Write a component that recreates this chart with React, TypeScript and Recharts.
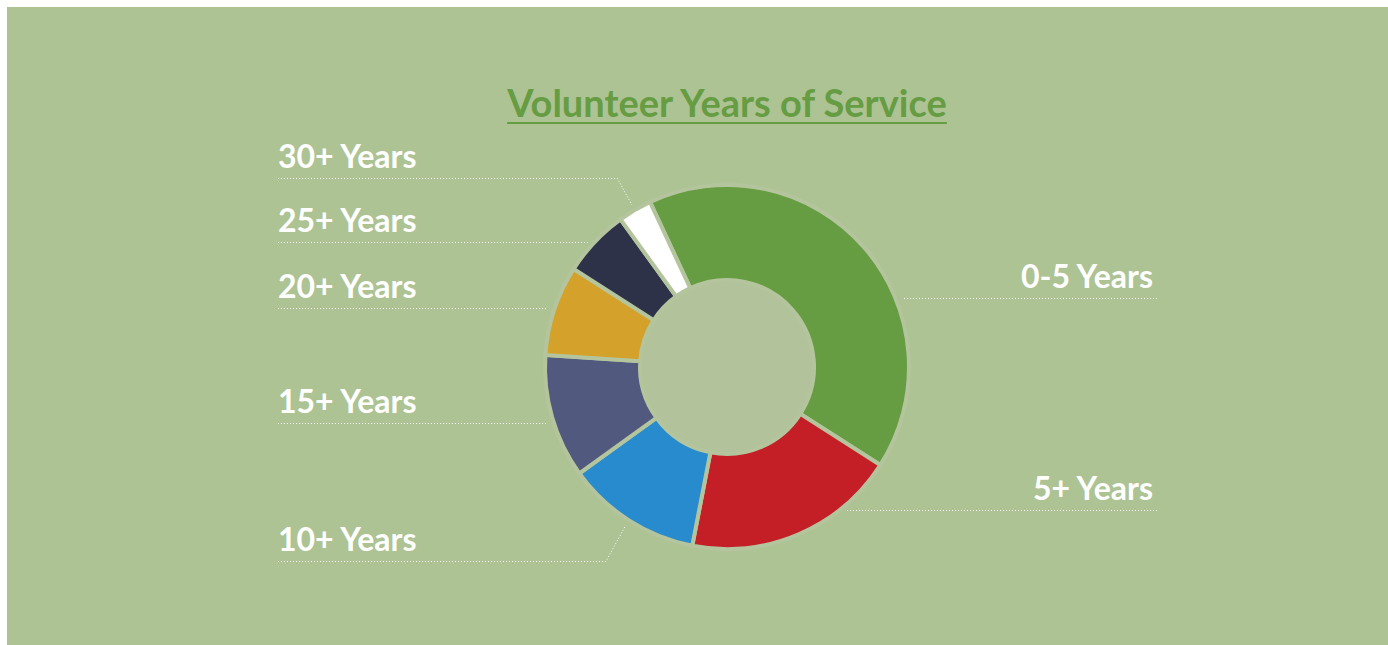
import React from 'react';
import { PieChart, Pie, Cell } from 'recharts';

const categories = ['0-5 Years', '5+ Years', '10+ Years', '15+ Years', '20+ Years', '25+ Years', '30+ Years'];
const shares = [41, 19, 12, 11, 8, 6, 3];
const sliceColors = ['#669c42', '#c41f26', '#278bce', '#515a7e', '#d4a22a', '#2e3249', '#ffffff'];

// vertical nudges so the labels don't crowd each other (like the original layout)
const labelNudge = [50, -23, 42, 6, -2, -1, -33];

const BG = '#adc394';
const HOLE = '#b2c39b';
const RING = '#b4c59d';

const data = categories.map((name, i) => ({ name, value: shares[i] }));

const W = 1381;
const H = 638;
const CX = 720;
const CY = 360;
const R_OUT = 182;
const R_IN = 87;

const renderLabel = (props: any) => {
  const { cx, cy, midAngle, outerRadius, index, name } = props;
  const rad = (midAngle * Math.PI) / 180;
  const r = outerRadius - 1;
  const ay = cy - r * Math.sin(rad);
  const right = Math.cos(rad) > 0;
  // snap to half pixels so the dotted leader stays crisp
  const ly = Math.round(ay + labelNudge[index]) + 0.5;
  const gap = 8;
  const dy = ly - cy;
  let pts: string;
  const textX = right ? cx + 426 : cx - 449;
  const lineOuter = right ? cx + 430 : cx - 449;
  if (Math.abs(dy) < r) {
    const edge = Math.sqrt(r * r - dy * dy) + gap;
    const ex = right ? cx + edge : cx - edge;
    pts = `${lineOuter},${ly} ${ex},${ly}`;
  } else {
    const ar = outerRadius + 6;
    const ax = cx + ar * Math.cos(rad);
    const ay2 = cy - ar * Math.sin(rad);
    const off = Math.abs(ly - ay2) * 0.55;
    const hx = right ? ax + off : ax - off;
    pts = `${lineOuter},${ly} ${hx},${ly} ${ax},${ay2}`;
  }
  return (
    <g key={`lbl-${index}`}>
      <polyline points={pts} fill="none" stroke="#ffffff" strokeWidth={1} strokeDasharray="1 2" />
      <text
        x={textX}
        y={ly - 10.5}
        textAnchor={right ? 'end' : 'start'}
        fill="#ffffff"
        fontFamily="Lato, sans-serif"
        fontWeight={700}
        fontSize={32}
      >
        {name}
      </text>
    </g>
  );
};

export default function App() {
  return (
    <div style={{ position: 'absolute', left: 7, top: 7, width: W, height: H, background: BG, overflow: 'hidden' }}>
      <div
        style={{
          position: 'absolute',
          left: 0,
          width: CX * 2,
          top: 76,
          textAlign: 'center',
          fontFamily: 'Lato, sans-serif',
          fontWeight: 700,
          fontSize: 38,
          lineHeight: '38px',
          color: '#669c42',
          textDecoration: 'underline',
          textDecorationThickness: '1.5px',
          textUnderlineOffset: '5px',
          whiteSpace: 'nowrap',
        }}
      >
        Volunteer Years of Service
      </div>
      <div
        style={{
          position: 'absolute',
          left: CX - R_IN - 2,
          top: CY - R_IN - 2,
          width: (R_IN + 2) * 2,
          height: (R_IN + 2) * 2,
          borderRadius: '50%',
          background: HOLE,
        }}
      />
      <PieChart width={W} height={H} margin={{ top: 0, right: 0, bottom: 0, left: 0 }}>
        <Pie
          data={data}
          dataKey="value"
          nameKey="name"
          cx={CX}
          cy={CY}
          innerRadius={R_IN}
          outerRadius={R_OUT}
          startAngle={115}
          endAngle={-245}
          stroke={RING}
          strokeWidth={4}
          label={renderLabel}
          labelLine={false}
          isAnimationActive={false}
        >
          {data.map((d, i) => (
            <Cell key={d.name} fill={sliceColors[i]} />
          ))}
        </Pie>
      </PieChart>
    </div>
  );
}
